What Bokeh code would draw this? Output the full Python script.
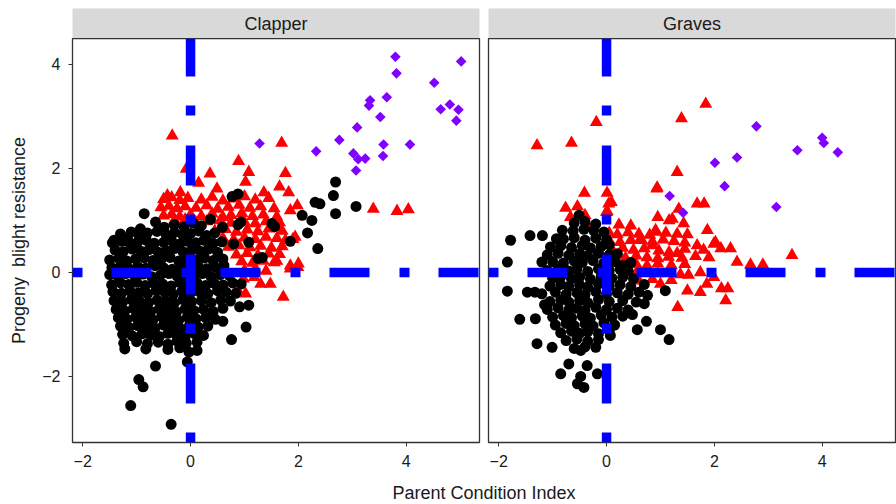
from bokeh.plotting import figure
from bokeh.models import Range1d, FixedTicker, Label
from bokeh.layouts import column, row
from bokeh.embed import file_html
from bokeh.resources import INLINE
import math

# ---------------- data ----------------
PANELS = ["Clapper", "Graves"]
X_LABEL = "Parent Condition Index"
Y_LABEL = "Progeny\u00a0 blight resistance"
X_TICKS = [-2, 0, 2, 4]
Y_TICKS = [-2, 0, 2, 4]
X_LIM = (-2.19, 5.36)
Y_LIM = (-3.27, 4.5)
REF_X = 0
REF_Y = 0

# Clapper - black (below threshold)
CL_BLK_X = [-0.86, -0.65, -0.49, -0.93, -1.17, -1.42, -0.30, -0.12, 0.05, 0.20, 0.37, 0.59, 0.93, 0.88, 0.77, 0.88,
            1.51, 1.56, 1.08, 1.33, 1.25, 0.80, 1.85, 2.07, 2.25, 2.17, 2.36, 2.31, 2.40, 2.69, 2.65, 2.69, 3.07,
            -1.30, -1.10, -0.95, -0.80, -0.62, -0.45, -0.30, -0.15, 0.00, 0.15, 0.30, 0.45,
            -1.45, -1.28, -1.12, -0.98, -0.82, -0.67, -0.50, -0.35, -0.20, -0.05, 0.10, 0.25, 0.42, 0.58,
            -1.40, -1.25, -1.08, -0.92, -0.77, -0.60, -0.45, -0.30, -0.14, 0.02, 0.18, 0.33, 0.50,
            -1.50, -1.33, -1.18, -1.02, -0.86, -0.70, -0.55, -0.38, -0.22, -0.07, 0.10, 0.26, 0.42, 0.60,
            -1.46, -1.30, -1.14, -0.98, -0.83, -0.66, -0.50, -0.34, -0.18, -0.02, 0.14, 0.30, 0.46, 0.62,
            -1.50, -1.35, -1.20, -1.04, -0.88, -0.72, -0.56, -0.40, -0.25, -0.10, 0.06, 0.22, 0.38, 0.55, 0.72,
            -1.46, -1.30, -1.15, -1.00, -0.84, -0.68, -0.52, -0.36, -0.20, -0.04, 0.12, 0.28, 0.44, 0.60, 0.78, 0.94,
            -1.44, -1.28, -1.12, -0.96, -0.80, -0.64, -0.48, -0.32, -0.16, 0.00, 0.16, 0.32, 0.50, 0.66, 0.84,
            -1.42, -1.26, -1.10, -0.94, -0.78, -0.62, -0.46, -0.30, -0.14, 0.02, 0.20, 0.38, 0.56, 0.74,
            -1.38, -1.22, -1.06, -0.90, -0.74, -0.58, -0.42, -0.26, -0.10, 0.06, 0.24, 0.42, 0.60,
            -1.34, -1.18, -1.02, -0.86, -0.70, -0.54, -0.38, -0.22, -0.06, 0.10, 0.28, 0.46,
            -1.30, -1.14, -0.98, -0.82, -0.66, -0.50, -0.34, -0.18, -0.02, 0.14, 0.32,
            -1.26, -1.08, -0.90, -0.74, -0.58, -0.42, -0.26, -0.10, 0.08, 0.24,
            -1.24, -1.00, -0.80, -0.60, -0.42, -0.25, -0.08, 0.12,
            -0.83, -0.42, -0.20, 0.12, -0.03, -0.06, -0.65, -0.96, -0.88, -1.11, -0.36, -1.22, 1.03, 0.76, 0.60,
            1.08, 0.91, -1.46]
CL_BLK_Y = [1.13, 0.97, 0.87, 0.84, 0.67, 0.62, 0.92, 0.88, 0.95, 0.90, 1.02, 0.87, 0.97, 0.92, 1.46, 1.51,
            0.94, 0.88, 0.58, 0.29, 0.27, 0.55, 0.60, 1.10, 1.00, 0.76, 0.46, 1.35, 1.32, 1.74, 1.48, 1.13, 1.27,
            0.74, 0.78, 0.71, 0.76, 0.79, 0.72, 0.77, 0.73, 0.75, 0.80, 0.71, 0.76,
            0.57, 0.60, 0.55, 0.59, 0.62, 0.56, 0.58, 0.61, 0.55, 0.60, 0.57, 0.62, 0.56, 0.59,
            0.43, 0.40, 0.45, 0.41, 0.44, 0.39, 0.42, 0.46, 0.40, 0.43, 0.41, 0.45, 0.39,
            0.24, 0.27, 0.22, 0.26, 0.28, 0.23, 0.25, 0.29, 0.22, 0.26, 0.24, 0.28, 0.23, 0.26,
            0.09, 0.12, 0.07, 0.11, 0.08, 0.13, 0.09, 0.06, 0.11, 0.08, 0.12, 0.07, 0.10, 0.13,
            -0.04, -0.07, -0.02, -0.06, -0.03, -0.08, -0.05, -0.02, -0.07, -0.04, -0.06, -0.02, -0.08, -0.04, -0.06,
            -0.24, -0.20, -0.23, -0.19, -0.25, -0.21, -0.22, -0.26, -0.19, -0.23, -0.20, -0.25, -0.21, -0.24, -0.20, -0.22,
            -0.37, -0.40, -0.36, -0.39, -0.41, -0.35, -0.38, -0.42, -0.36, -0.39, -0.37, -0.41, -0.35, -0.38, -0.40,
            -0.54, -0.57, -0.52, -0.56, -0.58, -0.53, -0.55, -0.59, -0.52, -0.56, -0.54, -0.58, -0.53, -0.55,
            -0.71, -0.74, -0.69, -0.73, -0.75, -0.70, -0.72, -0.76, -0.70, -0.73, -0.71, -0.75, -0.69,
            -0.87, -0.90, -0.86, -0.89, -0.91, -0.85, -0.88, -0.92, -0.86, -0.89, -0.87, -0.90,
            -1.03, -1.06, -1.02, -1.05, -1.07, -1.01, -1.04, -1.08, -1.02, -1.05, -1.03,
            -1.19, -1.22, -1.18, -1.21, -1.23, -1.17, -1.20, -1.24, -1.18, -1.21,
            -1.36, -1.33, -1.37, -1.34, -1.38, -1.32, -1.36, -1.34,
            -1.47, -1.48, -1.45, -1.50, -1.53, -1.72, -1.80, -2.06, -2.20, -2.56, -2.92, -1.47, -1.05, -1.29, -0.94,
            -0.63, -0.66, -0.24]

# Clapper - red (high progeny resistance)
CL_RED_X = [-0.34, 1.69, -0.08, 0.36, 0.89, 1.08, 1.76, 1.02, 0.15, 0.49, 1.65, 1.36, 1.82, -0.43, -0.19, 1.98,
            1.85, 3.39, 3.83, 4.04, 1.60, 1.76, 1.94, 1.85, 2.00, 1.72, 1.48, 1.02, 1.85, 1.99, 1.30, 0.87, 1.60,
            -0.50, -0.35, -0.20, -0.05, 0.20, 0.40, 0.60, 0.80, 1.00, 1.20, 1.45,
            -0.55, -0.40, -0.25, -0.10, 0.10, 0.30, 0.50, 0.70, 0.90, 1.10, 1.30, 1.55,
            -0.50, -0.35, -0.20, 0.00, 0.20, 0.40, 0.60, 0.75, 0.95, 1.15, 1.35, 1.60,
            -0.30, -0.10, 0.10, 0.30, 0.55, 0.75, 1.00, 1.20, 1.40, 1.65,
            0.45, 0.65, 0.85, 1.05, 1.25, 1.45, 1.70,
            0.60, 0.80, 1.00, 1.20, 1.40, 1.60, 1.90,
            0.70, 0.90, 1.10, 1.30, 1.50, 1.70,
            0.85, 1.05, 1.25, 1.45, 1.65,
            0.95, 1.15, 1.35, 1.55,
            1.00, 1.20, 1.40,
            0.98, 1.18]
CL_RED_Y = [2.63, 2.49, 1.99, 1.90, 2.14, 1.93, 1.91, 1.74, 1.72, 1.61, 1.65, 1.54, 1.54, 1.48, 1.54, 1.29,
            1.19, 1.22, 1.18, 1.21, 0.87, 0.62, 0.68, 0.13, 0.17, -0.47, -0.22, -0.41, 0.07, 0.10, -0.22, -0.33, 0.22,
            1.41, 1.44, 1.39, 1.43, 1.40, 1.45, 1.38, 1.42, 1.46, 1.40, 1.43,
            1.25, 1.28, 1.23, 1.27, 1.24, 1.29, 1.22, 1.26, 1.30, 1.24, 1.27, 1.23,
            1.09, 1.12, 1.07, 1.11, 1.08, 1.13, 1.06, 1.10, 1.14, 1.08, 1.11, 1.07,
            1.00, 1.02, 0.96, 0.98, 1.00, 0.95, 0.97, 0.94, 0.98, 0.96,
            0.80, 0.83, 0.78, 0.82, 0.79, 0.84, 0.80,
            0.66, 0.63, 0.67, 0.64, 0.68, 0.66, 0.64,
            0.49, 0.52, 0.48, 0.51, 0.47, 0.50,
            0.34, 0.37, 0.33, 0.36, 0.35,
            0.21, 0.18, 0.22, 0.19,
            0.04, 0.06, 0.03,
            -0.12, -0.09]

# Clapper - purple (both high)
CL_PUR_X = [1.28, 2.33, 2.76, 3.09, 3.02, 3.11, 3.24, 3.07, 3.31, 3.33, 3.52, 3.58, 3.57, 3.64, 3.80, 3.82,
            4.07, 4.52, 4.64, 4.81, 4.97, 4.93, 5.02]
CL_PUR_Y = [2.48, 2.33, 2.55, 2.79, 2.29, 2.18, 2.19, 1.96, 3.21, 3.31, 2.99, 2.46, 2.24, 3.37, 4.15, 3.83,
            2.46, 3.65, 3.14, 3.23, 3.13, 2.92, 4.06]

# Graves - black
GR_BLK_X = [-1.84, -1.84, -1.61, -1.29, -1.47, -1.33, -1.32, -1.15, 1.09, 1.16, 1.00, 0.74, 0.57, 0.48, 0.76, 0.70,
            0.07, -0.20, -0.48, -0.85, -0.70, -0.54, -0.42, -0.48, -0.36, -0.17, -1.01, -1.78, -1.42, -1.19, -0.93,
            -0.51, -0.82, -0.24, -1.04, -1.20, 0.28, 0.33,
            -0.60, -0.40, -0.20,
            -0.62, -0.42, -0.05,
            -0.80, -0.60, -0.40, -0.20, 0.00,
            -0.85, -0.65, -0.45, -0.30, -0.10, 0.05,
            -1.10, -0.90, -0.70, -0.50, -0.35, -0.15, 0.05, 0.20,
            -1.00, -0.80, -0.60, -0.45, -0.25, -0.05, 0.15, 0.45,
            -1.10, -0.90, -0.70, -0.55, -0.35, -0.15, 0.05, 0.25, 0.40,
            -1.00, -0.85, -0.65, -0.50, -0.30, -0.10, 0.10, 0.30, 0.50,
            -1.05, -0.85, -0.70, -0.50, -0.35, -0.15, 0.05, 0.25, 0.45, 0.70,
            -1.20, -0.95, -0.75, -0.55, -0.40, -0.20, 0.00, 0.20, 0.40, 0.60,
            -1.05, -0.85, -0.70, -0.50, -0.35, -0.15, 0.05, 0.30, 0.55,
            -1.10, -0.90, -0.70, -0.55, -0.40, -0.20, 0.00, 0.20, 0.40,
            -1.00, -0.80, -0.65, -0.45, -0.30, -0.10, 0.10, 0.30,
            -0.95, -0.75, -0.60, -0.40, -0.25, -0.05, 0.15,
            -0.85, -0.65, -0.50, -0.35, -0.15, 0.05,
            -0.75, -0.55, -0.35, -0.15,
            -0.60, -0.40]
GR_BLK_Y = [0.20, -0.36, -0.90, -1.37, -0.38, -0.38, -0.89, -0.62, -0.35, -1.29, -1.10, -0.94, -1.10, -0.81, -0.44, -0.60,
            -1.21, -1.44, -1.50, -1.95, -1.76, -2.14, -2.21, -2.00, -1.79, -1.95, -1.44, 0.62, 0.71, 0.71, 0.65,
            1.10, 0.81, 0.81, 0.49, 0.20, 0.13, 0.13,
            0.95, 0.98, 0.93,
            0.80, 0.83, 0.78,
            0.64, 0.67, 0.62, 0.66, 0.63,
            0.51, 0.48, 0.52, 0.47, 0.50, 0.53,
            0.34, 0.37, 0.33, 0.36, 0.32, 0.37, 0.34, 0.36,
            0.21, 0.18, 0.22, 0.19, 0.23, 0.18, 0.21, 0.19,
            0.04, 0.07, 0.03, 0.06, 0.02, 0.07, 0.04, 0.06, 0.03,
            -0.11, -0.08, -0.12, -0.09, -0.13, -0.08, -0.11, -0.09, -0.12,
            -0.26, -0.23, -0.27, -0.24, -0.28, -0.22, -0.26, -0.24, -0.27, -0.23,
            -0.41, -0.38, -0.42, -0.39, -0.43, -0.37, -0.41, -0.39, -0.42, -0.38,
            -0.56, -0.53, -0.57, -0.54, -0.58, -0.52, -0.56, -0.54, -0.57,
            -0.71, -0.68, -0.72, -0.69, -0.73, -0.67, -0.71, -0.69, -0.72,
            -0.86, -0.83, -0.87, -0.84, -0.88, -0.82, -0.86, -0.84,
            -1.01, -0.98, -1.02, -0.99, -1.03, -0.97, -1.01,
            -1.16, -1.13, -1.17, -1.14, -1.18, -1.12,
            -1.31, -1.28, -1.32, -1.29,
            -1.46, -1.43]

# Graves - red
GR_RED_X = [-1.29, -0.65, -0.19, 1.39, 1.84, 1.31, 0.94, -0.41, 0.01, 0.09, -0.76, -0.54, 0.01, 1.68, 1.81, 1.34,
            0.95, 1.87, 0.45, 0.23, 1.43, 1.16, 0.63, 0.91, 1.31, 2.02, 1.68, 1.22, -0.67, -0.40, 0.04, 0.00,
            0.93, 0.65, 0.90, -0.33, 1.99, 2.12, 2.30, 0.97, 1.16, 1.31, 0.85, 2.42, 2.67, 2.90, 3.44, 1.74,
            1.37, 1.52, 1.99, 1.86, 1.00, 1.50, 1.74, 2.13, 2.25, 2.21, 1.32,
            0.05, 0.20, 0.40, 0.60, 0.80, 1.10, 1.50,
            0.05, 0.25, 0.45, 0.85, 1.05, 1.25, 1.45,
            0.10, 0.30, 0.50, 0.70, 1.45, 1.80,
            0.15, 0.35, 0.55, 0.75, 0.95, 1.15, 1.40, 1.65, 1.90,
            0.55, 0.75, 0.95, 1.20, 1.45,
            0.55, 0.75, 0.95, 1.15,
            0.60, 0.85, 1.20]
GR_RED_Y = [2.44, 2.49, 2.89, 2.96, 3.24, 1.93, 1.63, 1.53, 1.53, 1.35, 1.24, 1.27, 1.18, 1.32, 1.32, 1.22,
            1.06, 0.81, 0.90, 0.92, 0.94, 1.00, 0.65, 0.81, 0.74, 0.58, 0.52, 1.03, 1.06, 1.10, 1.32, 1.16,
            1.61, 0.62, 0.78, 0.87, 0.55, 0.46, 0.46, 0.42, 0.39, 0.37, 0.52, 0.20, 0.15, 0.15, 0.33, 0.00,
            -0.04, -0.05, -0.09, -0.22, -0.22, -0.35, -0.38, -0.31, -0.31, -0.54, -0.67,
            0.76, 0.73, 0.77, 0.74, 0.72, 0.76, 0.73,
            0.61, 0.58, 0.62, 0.59, 0.63, 0.60, 0.57,
            0.44, 0.47, 0.43, 0.46, 0.45, 0.43,
            0.31, 0.28, 0.32, 0.29, 0.27, 0.30, 0.28, 0.31, 0.29,
            0.16, 0.13, 0.17, 0.14, 0.16,
            -0.01, 0.02, -0.02, 0.01,
            -0.16, -0.13, -0.15]

# Graves - purple
GR_PUR_X = [2.78, 2.01, 2.42, 2.19, 1.17, 1.42, 3.15, 3.54, 4.00, 4.03, 4.29]
GR_PUR_Y = [2.81, 2.11, 2.21, 1.66, 1.47, 1.15, 1.26, 2.35, 2.59, 2.49, 2.31]

# ---------------- style ----------------
FONT = "Liberation Sans"
BLACK = "#000000"
RED = "#FF0000"
PURPLE = "#7F00FF"
BLUE = "#0000FF"
STRIP = "#D9D9D9"
BORDER = "#333333"
MINUS = {-2: "\u22122", 0: "0", 2: "2", 4: "4"}


def strip(title, width, left, right):
    s = figure(width=width, height=38, x_range=Range1d(0, 1), y_range=Range1d(0, 1),
               x_axis_type=None, y_axis_type=None, toolbar_location=None,
               output_backend="svg", min_border_left=left, min_border_right=right,
               min_border_top=8, min_border_bottom=0)
    s.background_fill_color = STRIP
    s.outline_line_color = None
    s.grid.visible = False
    s.add_layout(Label(x=0.5, y=0.5, text=title, text_align="center", text_baseline="middle",
                       text_font=FONT, text_font_size="18px", text_color="#1A1A1A"))
    return s


def panel(width, left, right, show_y, bx, by, rx, ry, px, py):
    p = figure(width=width, height=434, x_range=Range1d(*X_LIM), y_range=Range1d(*Y_LIM),
               toolbar_location=None, output_backend="svg",
               min_border_left=left, min_border_right=right, min_border_top=0, min_border_bottom=30)
    p.grid.visible = False
    p.outline_line_color = BORDER
    p.outline_line_width = 1.3
    p.background_fill_color = "white"

    p.scatter(rx, ry, marker="triangle", size=13, fill_color=RED, line_color=None)
    p.scatter(bx, by, marker="circle", size=11, fill_color=BLACK, line_color=None)
    p.scatter(px, py, marker="square", size=7.5, angle=math.pi / 4, fill_color=PURPLE, line_color=None)

    p.line([X_LIM[0], X_LIM[1]], [REF_Y, REF_Y], line_color=BLUE, line_width=9.5,
           line_dash="10 29 40 30", line_cap="butt")
    p.line([REF_X, REF_X], [Y_LIM[0], Y_LIM[1]], line_color=BLUE, line_width=9.5,
           line_dash="10 29 40 30", line_cap="butt")

    for ax in p.xaxis:
        ax.ticker = FixedTicker(ticks=X_TICKS)
        ax.major_label_overrides = MINUS
    for ax in p.yaxis:
        ax.ticker = FixedTicker(ticks=Y_TICKS)
        ax.major_label_overrides = MINUS
    for ax in list(p.xaxis) + list(p.yaxis):
        ax.axis_line_color = None
        ax.major_tick_line_color = BORDER
        ax.major_tick_out = 4
        ax.major_tick_in = 0
        ax.minor_tick_line_color = None
        ax.major_label_text_font = FONT
        ax.major_label_text_font_size = "16px"
        ax.major_label_text_color = "#1A1A1A"
        ax.major_label_standoff = 8
    if show_y:
        p.yaxis.axis_label = Y_LABEL
        p.yaxis.axis_label_text_font = FONT
        p.yaxis.axis_label_text_font_size = "18px"
        p.yaxis.axis_label_text_font_style = "normal"
        p.yaxis.axis_label_text_color = "#1A1A1A"
        p.yaxis.axis_label_standoff = 10
    else:
        p.yaxis.visible = False
    return p


left_strip = strip(PANELS[0], 481, 72, 2)
right_strip = strip(PANELS[1], 415, 7, 1)
left_panel = panel(481, 72, 2, True, CL_BLK_X, CL_BLK_Y, CL_RED_X, CL_RED_Y, CL_PUR_X, CL_PUR_Y)
right_panel = panel(415, 7, 1, False, GR_BLK_X, GR_BLK_Y, GR_RED_X, GR_RED_Y, GR_PUR_X, GR_PUR_Y)

bottom = figure(width=896, height=32, x_range=Range1d(0, 896), y_range=Range1d(0, 32),
                x_axis_type=None, y_axis_type=None, toolbar_location=None, output_backend="svg",
                min_border=0)
bottom.outline_line_color = None
bottom.grid.visible = False
bottom.add_layout(Label(x=483.5, y=12, text=X_LABEL, text_align="center", text_baseline="middle",
                        text_font=FONT, text_font_size="18px", text_color="#1A1A1A"))

layout = column(row(column(left_strip, left_panel), column(right_strip, right_panel)), bottom)

open("out.html", "w").write(file_html(layout, INLINE))
